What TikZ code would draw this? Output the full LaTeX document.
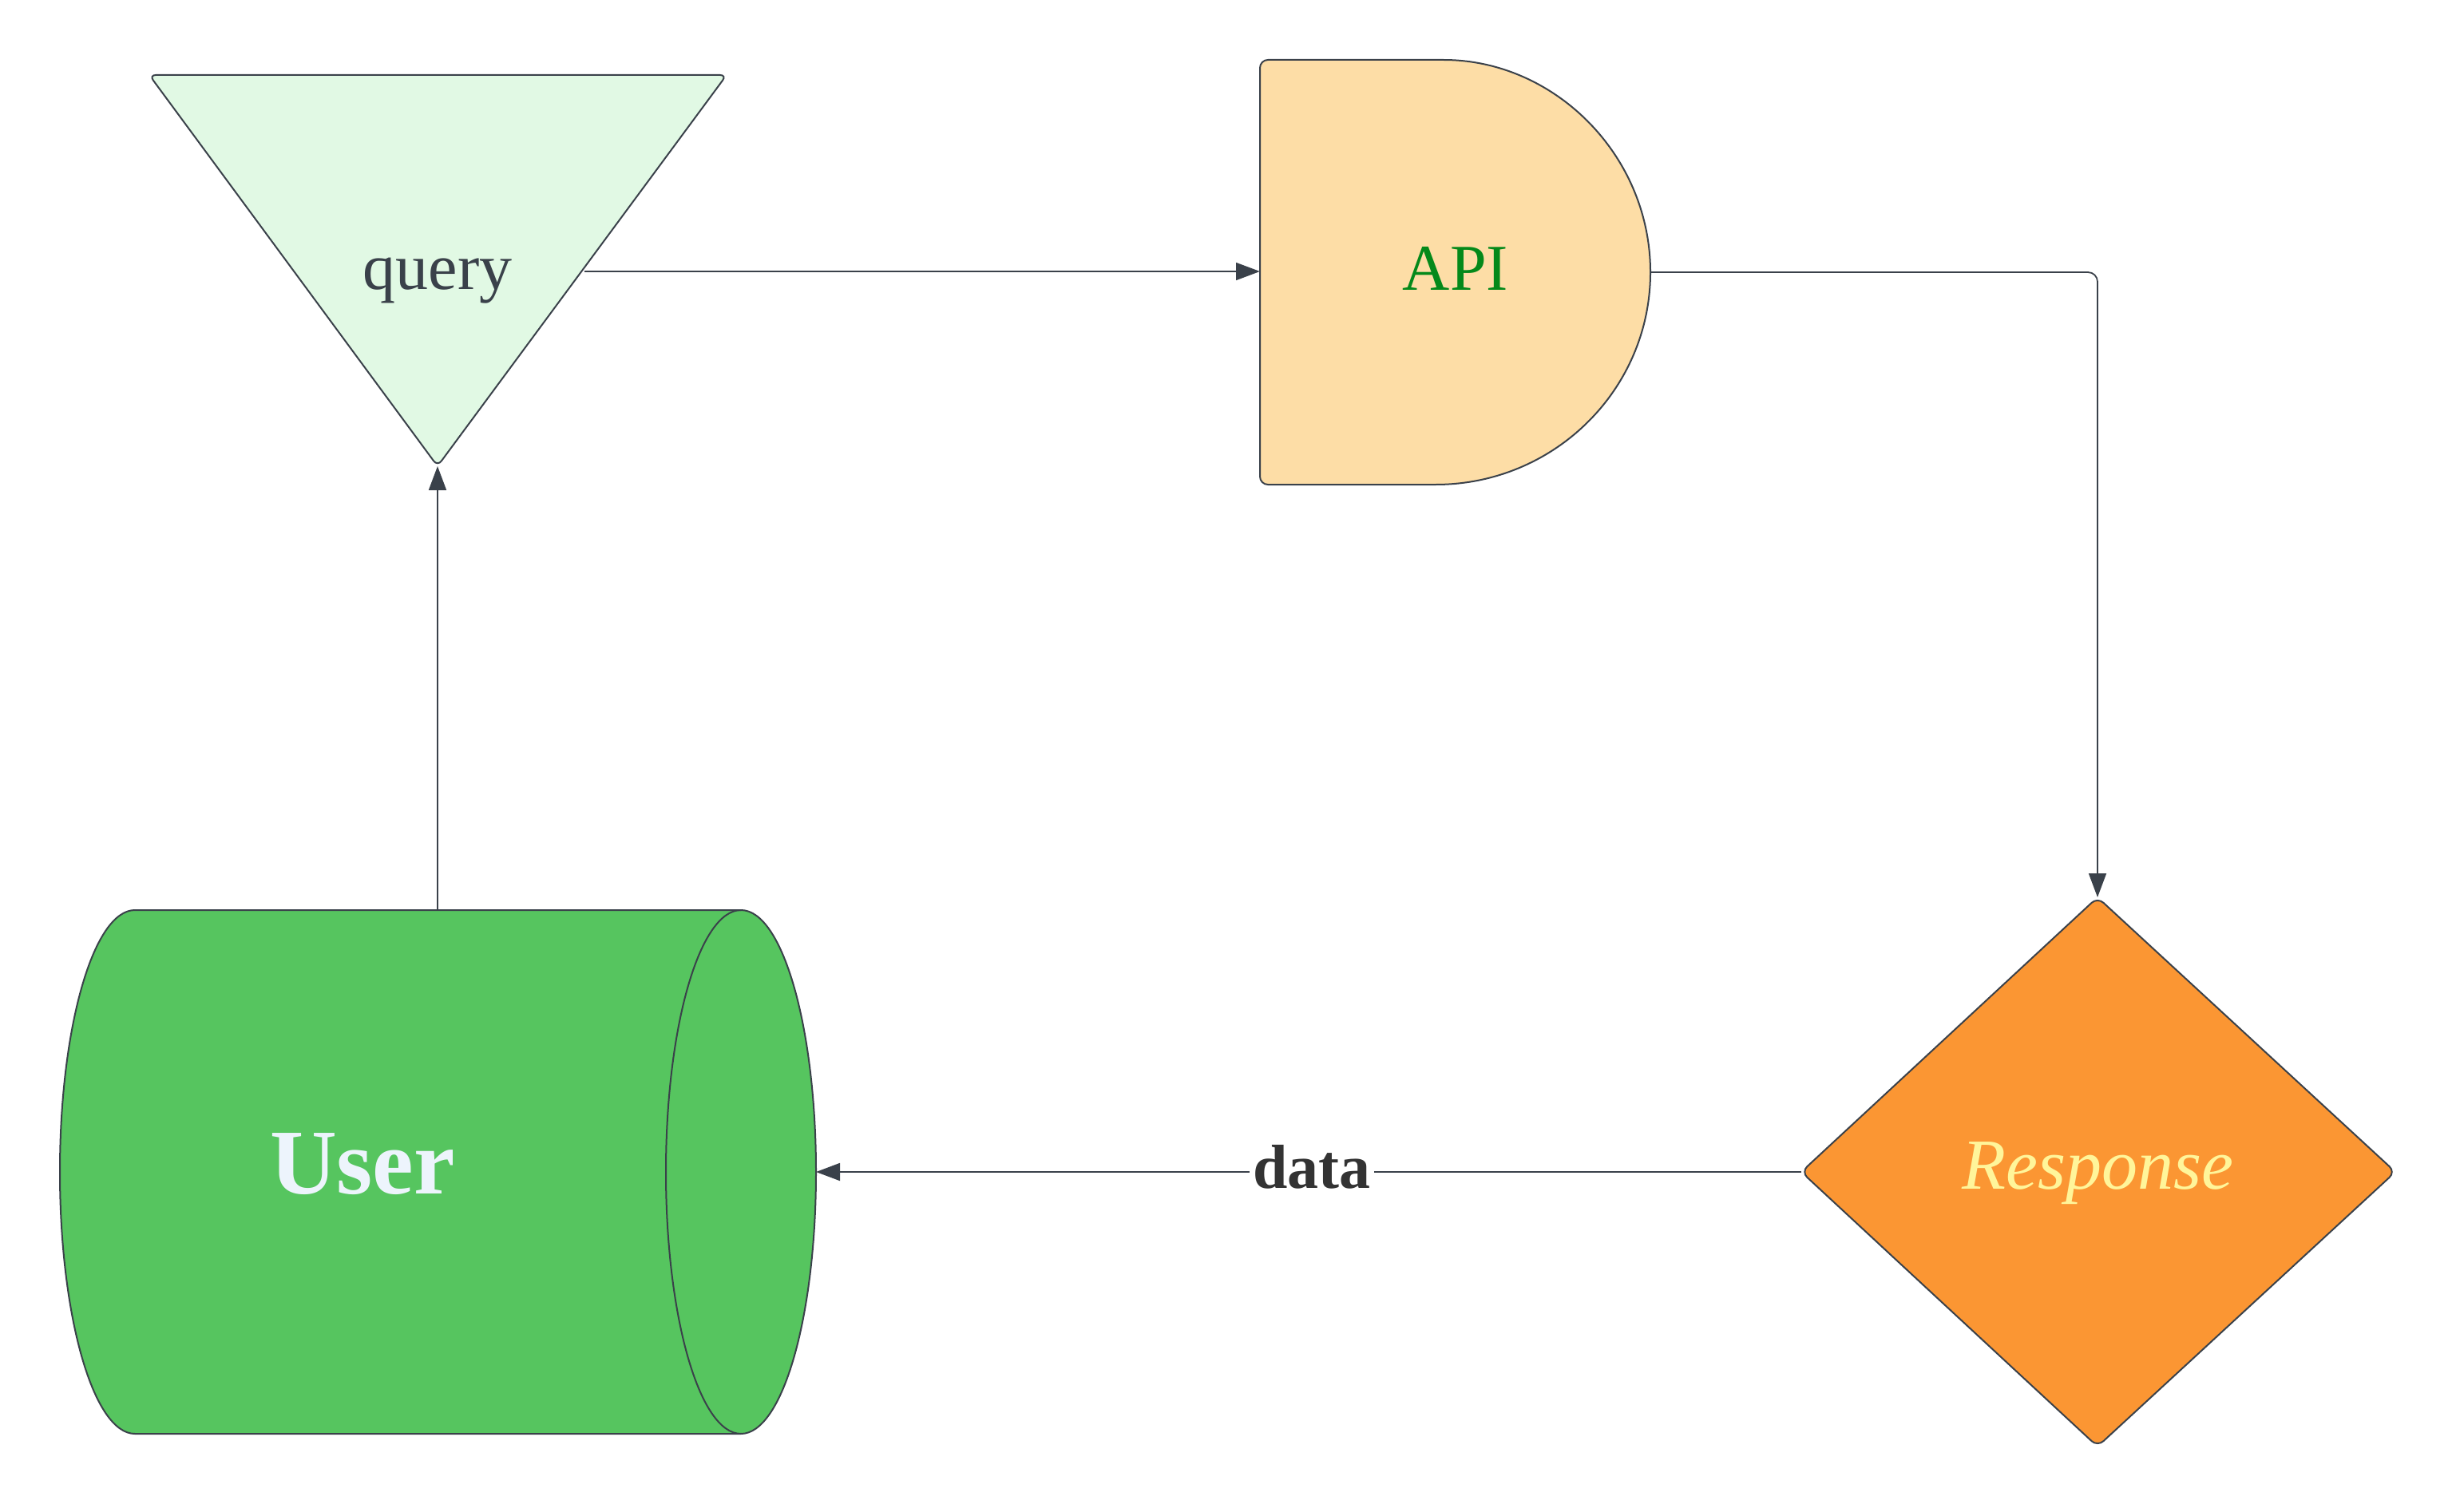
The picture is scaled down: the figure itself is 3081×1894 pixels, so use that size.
\documentclass[tikz,border=0pt]{standalone}
\usepackage{fontspec}
\setmainfont{Liberation Serif}
\usetikzlibrary{arrows.meta}
\definecolor{strokec}{HTML}{3A414A}
\definecolor{trifill}{HTML}{E1F9E4}
\definecolor{apifill}{HTML}{FDDDA6}
\definecolor{apitext}{HTML}{04891A}
\definecolor{respfill}{HTML}{FB9633}
\definecolor{resptext}{HTML}{FFF59A}
\definecolor{userfill}{HTML}{56C55F}
\definecolor{usertext}{HTML}{EDF4FC}
\definecolor{datatext}{HTML}{333333}
\begin{document}
\begin{tikzpicture}[x=1pt,y=-1pt,
  shapeline/.style={draw=strokec, line width=2pt},
  conn/.style={draw=strokec, line width=1.8pt, -{Triangle[length=30pt,width=22pt]}},
  lbl/.style={inner sep=0pt}]
\useasboundingbox (0,0) rectangle (3081,1894);

% triangle "query"
\path[shapeline, fill=trifill, rounded corners=8pt] (187,94) -- (910,94) -- (548,584) -- cycle;
\node[lbl, text=strokec, font=\fontsize{82}{98}\selectfont] (query) at (548,352) {query};
\coordinate (qR) at (732,340);
\coordinate (qB) at (548,584);

% API (D shape)
\path[shapeline, fill=apifill] (1578,340) [rounded corners=10pt] -- (1578,75) -- (1798,75)
  [sharp corners] arc[start angle=-90, end angle=90, x radius=269, y radius=266]
  -- (1788,607) [rounded corners=10pt] -- (1578,607) -- cycle;
\node[lbl, text=apitext, font=\fontsize{82}{98}\selectfont] (api) at (1823,336) {API};
\coordinate (apiL) at (1578,340);
\coordinate (apiR) at (2067,341);

% Response diamond
\path[shapeline, fill=respfill, rounded corners=10pt] (2627,1124) -- (3000,1468) -- (2627,1812) -- (2256,1468) -- cycle;
\node[lbl, text=resptext, font=\fontsize{90}{104}\selectfont\itshape] (resp) at (2627,1470) {Response};
\coordinate (rT) at (2627,1124);
\coordinate (rL) at (2256,1468);

% User cylinder
\path[shapeline, fill=userfill] (169,1140) -- (928,1140)
  arc[start angle=-90, end angle=90, x radius=94, y radius=328]
  -- (169,1796)
  arc[start angle=90, end angle=270, x radius=94, y radius=328] -- cycle;
\draw[shapeline] (928,1140) arc[start angle=-90, end angle=-270, x radius=94, y radius=328];
\node[lbl, text=usertext, font=\fontsize{116}{130}\selectfont\bfseries] (user) at (454,1458) {User};
\coordinate (uR) at (1022,1468);
\coordinate (uT) at (548,1140);

% connectors
\draw[conn] (qR) -- (apiL);
\draw[conn, rounded corners=12pt] (apiR) -| (rT);
\draw[conn] (rL) -- node[fill=white, inner sep=4pt, text=datatext, font=\fontsize{78}{90}\selectfont\bfseries, yshift=6pt, xshift=4pt] (datalbl) {data} (uR);
\draw[conn] (uT) -- (qB);
\end{tikzpicture}
\end{document}
